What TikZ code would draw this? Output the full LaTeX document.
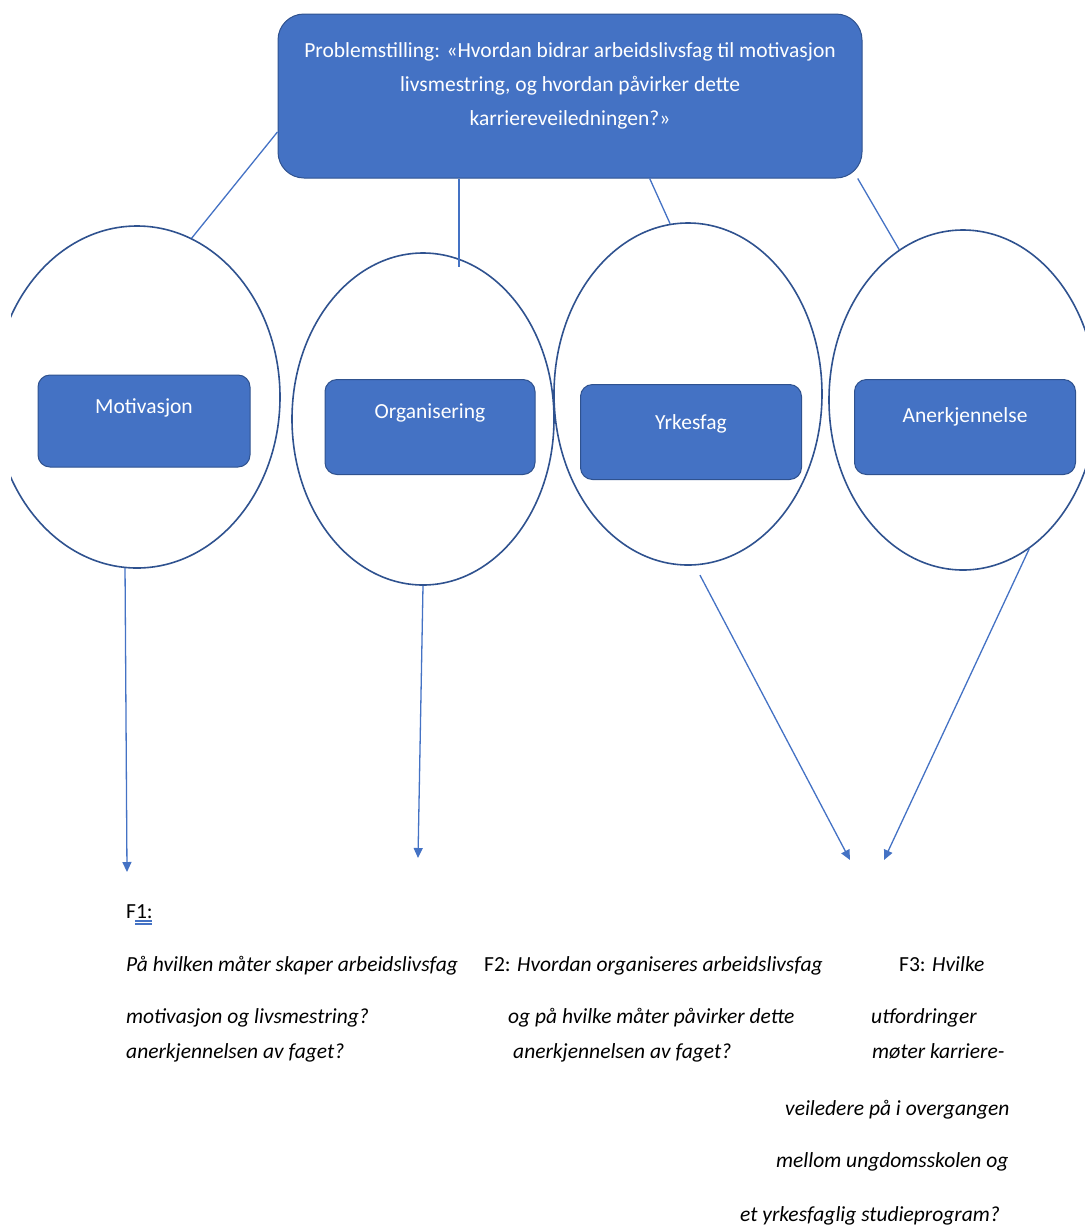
\documentclass[tikz,border=0pt]{standalone}
\usepackage{fontspec}
\setmainfont{Carlito}
\usetikzlibrary{positioning,arrows.meta,shapes.geometric}
\definecolor{boxblue}{HTML}{4472C4}
\definecolor{edgeblue}{HTML}{2F528F}

\begin{document}
\begin{tikzpicture}[x=1pt, y=-1pt, every node/.style={font=\fontsize{21.5}{25}\selectfont},
  catbox/.style={draw=edgeblue, fill=boxblue, rounded corners=12, line width=1pt, minimum width=212, minimum height=92},
  labtext/.style={text=white, font=\fontsize{21.5}{25}\selectfont},
  oval/.style={draw=edgeblue, ellipse, line width=1.6pt},
  link/.style={boxblue, line width=1.3pt},
  qtext/.style={anchor=base west, inner sep=0pt}]
\useasboundingbox (0,0) rectangle (1085,1227);
% problem statement
\node[catbox, minimum width=584, minimum height=164, rounded corners=26,
  label={[labtext, align=center, yshift=10pt, font=\fontsize{21.5}{34}\selectfont]center:{Problemstilling: «Hvordan bidrar arbeidslivsfag til motivasjon\\livsmestring, og hvordan påvirker dette\\karriereveiledningen?»}}] (prob) at (570,96) {};
% circles
\begin{scope}
\clip (11,0) rectangle (1085,1227);
\node[oval, minimum width=286, minimum height=342] (motiv) at (137,397) {};
\node[oval, minimum width=262, minimum height=332] (org) at (423,419) {};
\node[oval, minimum width=268, minimum height=342] (yrke) at (688,394) {};
\node[oval, minimum width=268, minimum height=340] (aner) at (963,400) {};
\end{scope}
% category boxes
\node[catbox, label={[labtext, yshift=13pt]center:Motivasjon}] (motivbox) at (144,421) {};
\node[catbox, minimum width=210, minimum height=95, label={[labtext, yshift=14pt]center:Organisering}] (orgbox) at (430,427) {};
\node[catbox, minimum width=221, minimum height=95, label={[labtext, yshift=8pt]center:Yrkesfag}] (yrkebox) at (691,432) {};
\node[catbox, minimum width=221, minimum height=95, label={[labtext, yshift=10pt]center:Anerkjennelse}] (anerbox) at (965,427) {};
% links
\coordinate (orgtop) at (459,267);
\draw[link] (prob.187.6) -- (motiv.71.7);
\draw[link] (orgtop |- prob.south) -- (orgtop);
\draw[link] (prob.314.3) -- (yrke.96.2);
\draw[link] (prob.344.8) -- (aner.113.3);
% arrows
\coordinate (f1end) at (127,872);
\coordinate (f2end) at (418,858);
\coordinate (f3a) at (850,860);
\coordinate (f3b) at (884,860);
\draw[link, -{Triangle[length=10pt,width=9pt]}] (motiv.266) -- (f1end);
\draw[link, -{Triangle[length=10pt,width=9pt]}] (org.270) -- (f2end);
\draw[link, -{Triangle[length=10pt,width=9pt]}] ([yshift=-10pt]yrke.274) -- (f3a);
\draw[link, -{Triangle[length=10pt,width=9pt]}] (aner.294.5) -- (f3b);
% questions
\node[qtext] (q1) at (126,918) {F1:};
\draw[boxblue, line width=1.1pt] ([xshift=9pt, yshift=-3pt]q1.base west) -- ++(17,0)
  ([xshift=9pt, yshift=-6pt]q1.base west) -- ++(17,0);
\node[qtext] (q1a) at (126,971) {\itshape På hvilken måter skaper arbeidslivsfag};
\node[qtext] (q1b) at (126,1023) {\itshape motivasjon og livsmestring?};
\node[qtext] (q1c) at (126,1058) {\itshape anerkjennelsen av faget?};
\node[qtext] (q2a) at (484,971) {F2: \itshape Hvordan organiseres arbeidslivsfag};
\node[qtext] (q2b) at (508,1023) {\itshape og på hvilke måter påvirker dette};
\node[qtext] (q2c) at (513,1058) {\itshape anerkjennelsen av faget?};
\node[qtext] (q3a) at (899,971) {F3: \itshape Hvilke};
\node[qtext] (q3b) at (871,1023) {\itshape utfordringer};
\node[qtext] (q3c) at (872,1058) {\itshape møter karriere-};
\node[qtext] (q3d) at (785,1115) {\itshape veiledere på i overgangen};
\node[qtext] (q3e) at (776,1167) {\itshape mellom ungdomsskolen og};
\node[qtext] (q3f) at (740,1221) {\itshape et yrkesfaglig studieprogram?};
\end{tikzpicture}
\end{document}
